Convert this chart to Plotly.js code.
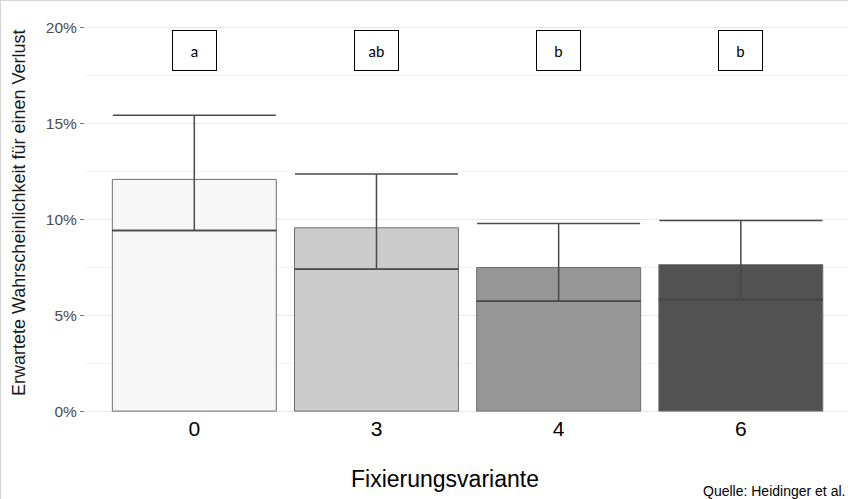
<!DOCTYPE html>
<html>
<head>
<meta charset="utf-8">
<script src="https://cdn.plot.ly/plotly-3.0.1.min.js"></script>
<style>
html,body{margin:0;padding:0;background:#fff;}
#wrap{position:relative;width:848px;height:499px;}
#chart{width:848px;height:499px;}
#frame{position:absolute;left:0;top:0;width:848px;height:499px;box-sizing:border-box;border-top:1px solid #d4d4d4;border-left:1px solid #d4d4d4;pointer-events:none;}
</style>
</head>
<body>
<div id="wrap"><div id="chart"></div><div id="frame"></div></div>
<script>
// Data (percent)
const categories = ["0", "3", "4", "6"];
const barTop     = [12.07, 9.55, 7.48, 7.63];
const midLine    = [9.41, 7.39, 5.72, 5.81];
const upperCap   = [15.41, 12.35, 9.78, 9.93];
const groupLetters = ["a", "ab", "b", "b"];
const letterLevel = 18.8;
const yTitle = "Erwartete Wahrscheinlichkeit für einen Verlust";
const xTitle = "Fixierungsvariante";
const source = "Quelle: Heidinger et al.";

const fills = ["#f7f7f7", "#cccccc", "#969696", "#525252"];
const barWidth = 0.9;
const idx = categories.map((c, i) => i);

const bars = {
  type: "bar",
  x: idx,
  y: barTop,
  base: 0,
  width: barWidth,
  marker: {color: fills, line: {color: "#6e6e6e", width: 1}},
  hoverinfo: "skip",
  showlegend: false
};

const mx = [], my = [];
idx.forEach((i) => {
  mx.push(i - barWidth / 2, i + barWidth / 2, null);
  my.push(midLine[i], midLine[i], null);
});
const mids = {
  type: "scatter", mode: "lines", x: mx, y: my,
  line: {color: "#2e2e2e", width: 1.5}, hoverinfo: "skip", showlegend: false
};

const whisk = {
  type: "scatter", mode: "markers", x: idx, y: midLine,
  marker: {size: 1, color: "rgba(0,0,0,0)"},
  error_y: {
    type: "data", symmetric: false,
    array: upperCap.map((u, i) => u - midLine[i]),
    arrayminus: idx.map(() => 0),
    color: "#4a4a4a", thickness: 1.5, width: 81.5
  },
  hoverinfo: "skip", showlegend: false
};

const L = 85, R = 0, T = 8, B = 85;
const PH = 499 - T - B, PW = 848 - L - R;
const spacing = 182.17;
const xmax = (848 - L) / spacing - 0.6;
const px2x = (p) => (p - L) / PW;
const py2y = (p) => (499 - B - p) / PH;

const annotations = idx.map((i) => ({
  x: i, y: letterLevel, xref: "x", yref: "y",
  text: groupLetters[i], showarrow: false,
  font: {family: "Lato, 'Open Sans', sans-serif", size: 15, color: "#000"},
  bgcolor: "#ffffff", bordercolor: "#000000", borderwidth: 1, borderpad: 0,
  width: 43, height: 39, align: "center", valign: "middle"
}));
annotations.push({
  x: px2x(847), y: py2y(491), xref: "paper", yref: "paper",
  xanchor: "right", yanchor: "middle", text: source, showarrow: false,
  font: {family: "'Liberation Sans', Arial, sans-serif", size: 14, color: "#000"}
});
annotations.push({
  x: px2x(19), y: py2y(213), xref: "paper", yref: "paper",
  xanchor: "center", yanchor: "middle", textangle: -90, text: yTitle, showarrow: false,
  font: {family: "'Liberation Sans', Arial, sans-serif", size: 18, color: "#1a1a1a"}
});
annotations.push({
  x: px2x(445), y: py2y(479), xref: "paper", yref: "paper",
  xanchor: "center", yanchor: "middle", text: xTitle, showarrow: false,
  font: {family: "'Liberation Sans', Arial, sans-serif", size: 23, color: "#000"}
});

const layout = {
  width: 848, height: 499,
  margin: {l: L, r: R, t: T, b: B, pad: 0},
  paper_bgcolor: "#ffffff", plot_bgcolor: "#ffffff",
  font: {family: "'Liberation Sans', Arial, sans-serif"},
  xaxis: {
    range: [-0.6, xmax], tickmode: "array", tickvals: idx, ticktext: categories,
    showgrid: false, zeroline: false, showline: false, ticks: "",
    tickfont: {size: 21, color: "#000"},
    fixedrange: true
  },
  yaxis: {
    range: [-0.15, 21], tickmode: "array", tickvals: [0, 5, 10, 15, 20],
    ticktext: ["0%", "5%", "10%", "15%", "20%"],
    showgrid: true, gridcolor: "#e6e6e6", gridwidth: 1,
    minor: {tickmode: "array", tickvals: [2.5, 7.5, 12.5, 17.5], showgrid: true, gridcolor: "#f2f2f2", gridwidth: 1, ticks: ""},
    zeroline: false, showline: false,
    ticks: "outside", ticklen: 4, tickwidth: 1, tickcolor: "#7a7a7a",
    tickfont: {size: 15.5, color: "#4d4d4d"},
    fixedrange: true
  },
  annotations: annotations,
  bargap: 0
};

Plotly.newPlot("chart", [bars, mids, whisk], layout, {displayModeBar: false, staticPlot: true});
</script>
</body>
</html>
